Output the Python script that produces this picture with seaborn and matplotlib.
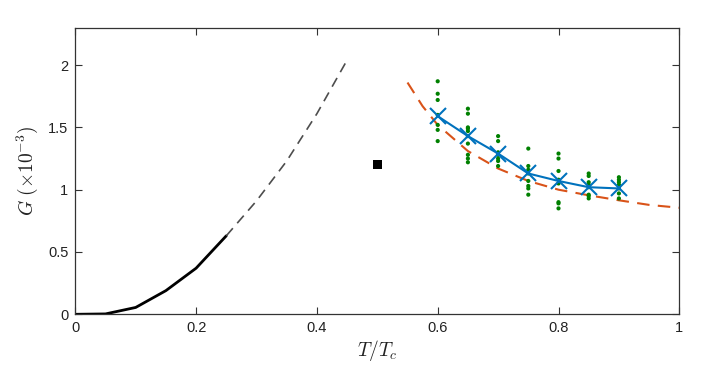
import numpy as np
import pandas as pd
import matplotlib
matplotlib.use("Agg")
from matplotlib import pyplot as plt
import seaborn as sns

# low temperature curve (solid) and its extrapolation (dashed)
t_low = [0.0, 0.05, 0.1, 0.15, 0.2, 0.25]
g_low = [0.0, 0.003, 0.055, 0.19, 0.37, 0.63]
t_ext = [0.25, 0.3, 0.35, 0.4, 0.45]
g_ext = [0.63, 0.91, 1.23, 1.61, 2.04]

# single square point
t_sq = [0.5]
g_sq = [1.2]

# theory curve (orange dashed)
t_th = [0.55, 0.575, 0.6, 0.65, 0.7, 0.75, 0.8, 0.85, 0.9, 0.95, 1.0]
g_th = [1.86, 1.67, 1.52, 1.31, 1.17, 1.07, 1.00, 0.955, 0.915, 0.878, 0.855]

# simulation runs (green dots) per temperature
runs = {
    0.6: [1.87, 1.77, 1.72, 1.60, 1.52, 1.48, 1.39],
    0.65: [1.65, 1.61, 1.50, 1.49, 1.47, 1.43, 1.37, 1.28, 1.25, 1.22],
    0.7: [1.43, 1.39, 1.30, 1.28, 1.25, 1.23, 1.19],
    0.75: [1.33, 1.19, 1.16, 1.13, 1.07, 1.03, 1.01, 0.96],
    0.8: [1.29, 1.25, 1.15, 1.08, 1.05, 0.90, 0.89, 0.85],
    0.85: [1.13, 1.11, 1.06, 1.04, 1.02, 0.96, 0.95, 0.93],
    0.9: [1.10, 1.08, 1.06, 1.04, 1.01, 0.97, 0.93],
}
# averages (blue crosses)
t_avg = [0.6, 0.65, 0.7, 0.75, 0.8, 0.85, 0.9]
g_avg = [1.59, 1.43, 1.29, 1.13, 1.07, 1.02, 1.01]

sns.set_style("ticks")
plt.rcParams['font.family'] = ['Liberation Sans', 'DejaVu Sans']
plt.rcParams['mathtext.fontset'] = 'cm'

fig = plt.figure(figsize=(7.06, 3.65), dpi=100)
ax = fig.add_axes([75.3 / 706, 1 - 314.3 / 365, (679.3 - 75.3) / 706, (314.3 - 27.7) / 365])

dots = pd.DataFrame([(t, g) for t, vals in runs.items() for g in vals], columns=["T", "G"])

sns.lineplot(x=t_low, y=g_low, color="black", lw=2, ax=ax)
sns.lineplot(x=t_ext, y=g_ext, color="#4d4d4d", lw=1.2, ax=ax, linestyle=(0, (6, 4)))
sns.lineplot(x=t_th, y=g_th, color="#D95319", lw=1.5, ax=ax, linestyle=(0, (6, 4)))
sns.scatterplot(data=dots, x="T", y="G", color="green", s=9, edgecolor="none", ax=ax, zorder=3)
sns.lineplot(x=t_avg, y=g_avg, color="#0072BD", lw=1.5, marker="x", markersize=11,
             markeredgewidth=1.5, markeredgecolor="#0072BD", ax=ax, zorder=4)
sns.scatterplot(x=t_sq, y=g_sq, color="black", marker="s", s=40, edgecolor="none", ax=ax)

ax.set_xlim(0, 1)
ax.set_ylim(0, 2.3)
ax.set_xticks([0, 0.2, 0.4, 0.6, 0.8, 1])
ax.set_xticklabels(["0", "0.2", "0.4", "0.6", "0.8", "1"])
ax.set_yticks([0, 0.5, 1, 1.5, 2])
ax.set_yticklabels(["0", "0.5", "1", "1.5", "2"])
ax.tick_params(direction="in", top=True, right=True, length=5, width=0.8,
               labelsize=10.5, color="#333333", labelcolor="#222222", pad=5)
for sp in ax.spines.values():
    sp.set_color("#333333")
    sp.set_linewidth(0.9)
ax.set_xlabel(r"$T/T_c$", fontsize=14, color="#222222", labelpad=2)
ax.set_ylabel(r"$G\ (\times 10^{-3})$", fontsize=14, color="#222222", labelpad=6)

fig.savefig("out.png", dpi=100)
